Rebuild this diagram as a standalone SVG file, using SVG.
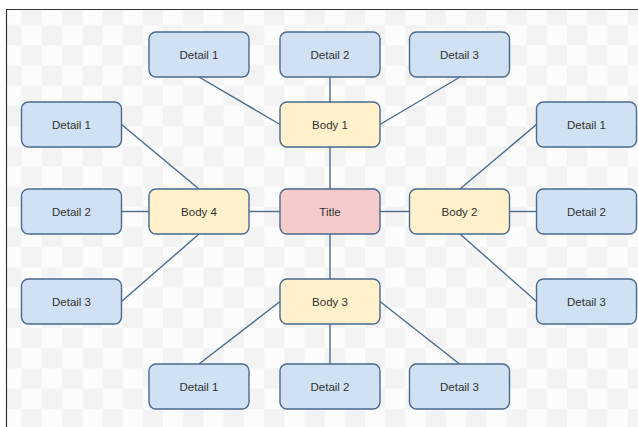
<svg xmlns="http://www.w3.org/2000/svg" width="638" height="427" viewBox="0 0 638 427">
<defs>
<pattern id="checker" patternUnits="userSpaceOnUse" x="1.5" y="4.8" width="40.4" height="40.4">
<rect x="0" y="0" width="40.4" height="40.4" fill="#fcfcfc"/>
<rect x="20.2" y="0" width="20.2" height="20.2" fill="#f3f3f3"/>
<rect x="0" y="20.2" width="20.2" height="20.2" fill="#f3f3f3"/>
</pattern>
<style>
.box{stroke:#4a6a8e;stroke-width:1.4}
.detail{fill:#cfe1f3}
.body{fill:#fff1cb}
.title{fill:#f5cbcb}
.lbl{font-family:"Liberation Sans",Arial,sans-serif;font-size:11.5px;fill:#333333;text-anchor:middle;dominant-baseline:central}
.conn line{stroke:#4a6a8e;stroke-width:1.4}
</style>
</defs>
<rect x="0" y="0" width="638" height="427" fill="#ffffff"/>
<rect x="6.5" y="9.5" width="640" height="430" fill="url(#checker)"/>
<path d="M6.5 427 V9.5 H638" fill="none" stroke="#333333" stroke-width="1.2"/>
<g id="connectors" class="conn">
<line x1="199" y1="77" x2="280" y2="124.5"/>
<line x1="330" y1="77" x2="330" y2="102"/>
<line x1="460" y1="77" x2="380" y2="124.5"/>
<line x1="330" y1="147" x2="330" y2="189"/>
<line x1="121.5" y1="124.5" x2="199" y2="189"/>
<line x1="121.5" y1="211.5" x2="149" y2="211.5"/>
<line x1="121.5" y1="301.5" x2="199" y2="234"/>
<line x1="249" y1="211.5" x2="280" y2="211.5"/>
<line x1="380" y1="211.5" x2="409.5" y2="211.5"/>
<line x1="460" y1="189" x2="536.5" y2="124.5"/>
<line x1="509.5" y1="211.5" x2="536.5" y2="211.5"/>
<line x1="460" y1="234" x2="536.5" y2="301.5"/>
<line x1="330" y1="234" x2="330" y2="279"/>
<line x1="280" y1="301.5" x2="199" y2="364"/>
<line x1="330" y1="324" x2="330" y2="364"/>
<line x1="380" y1="301.5" x2="459.5" y2="364"/>
</g>
<g id="title"><rect class="box title" x="280" y="189" width="100" height="45" rx="7"/><text class="lbl" x="330" y="211.5">Title</text></g>
<g id="body1"><rect class="box body" x="280" y="102" width="100" height="45" rx="7"/><text class="lbl" x="330" y="124.5">Body 1</text></g>
<g id="body2"><rect class="box body" x="409.5" y="189" width="100" height="45" rx="7"/><text class="lbl" x="459.5" y="211.5">Body 2</text></g>
<g id="body3"><rect class="box body" x="280" y="279" width="100" height="45" rx="7"/><text class="lbl" x="330" y="301.5">Body 3</text></g>
<g id="body4"><rect class="box body" x="149" y="189" width="100" height="45" rx="7"/><text class="lbl" x="199" y="211.5">Body 4</text></g>
<g id="top-detail1"><rect class="box detail" x="149" y="32" width="100" height="45" rx="7"/><text class="lbl" x="199" y="54.5">Detail 1</text></g>
<g id="top-detail2"><rect class="box detail" x="280" y="32" width="100" height="45" rx="7"/><text class="lbl" x="330" y="54.5">Detail 2</text></g>
<g id="top-detail3"><rect class="box detail" x="409.5" y="32" width="100" height="45" rx="7"/><text class="lbl" x="459.5" y="54.5">Detail 3</text></g>
<g id="left-detail1"><rect class="box detail" x="21.5" y="102" width="100" height="45" rx="7"/><text class="lbl" x="71.5" y="124.5">Detail 1</text></g>
<g id="left-detail2"><rect class="box detail" x="21.5" y="189" width="100" height="45" rx="7"/><text class="lbl" x="71.5" y="211.5">Detail 2</text></g>
<g id="left-detail3"><rect class="box detail" x="21.5" y="279" width="100" height="45" rx="7"/><text class="lbl" x="71.5" y="301.5">Detail 3</text></g>
<g id="right-detail1"><rect class="box detail" x="536.5" y="102" width="100" height="45" rx="7"/><text class="lbl" x="586.5" y="124.5">Detail 1</text></g>
<g id="right-detail2"><rect class="box detail" x="536.5" y="189" width="100" height="45" rx="7"/><text class="lbl" x="586.5" y="211.5">Detail 2</text></g>
<g id="right-detail3"><rect class="box detail" x="536.5" y="279" width="100" height="45" rx="7"/><text class="lbl" x="586.5" y="301.5">Detail 3</text></g>
<g id="bottom-detail1"><rect class="box detail" x="149" y="364" width="100" height="45" rx="7"/><text class="lbl" x="199" y="386.5">Detail 1</text></g>
<g id="bottom-detail2"><rect class="box detail" x="280" y="364" width="100" height="45" rx="7"/><text class="lbl" x="330" y="386.5">Detail 2</text></g>
<g id="bottom-detail3"><rect class="box detail" x="409.5" y="364" width="100" height="45" rx="7"/><text class="lbl" x="459.5" y="386.5">Detail 3</text></g>
</svg>
